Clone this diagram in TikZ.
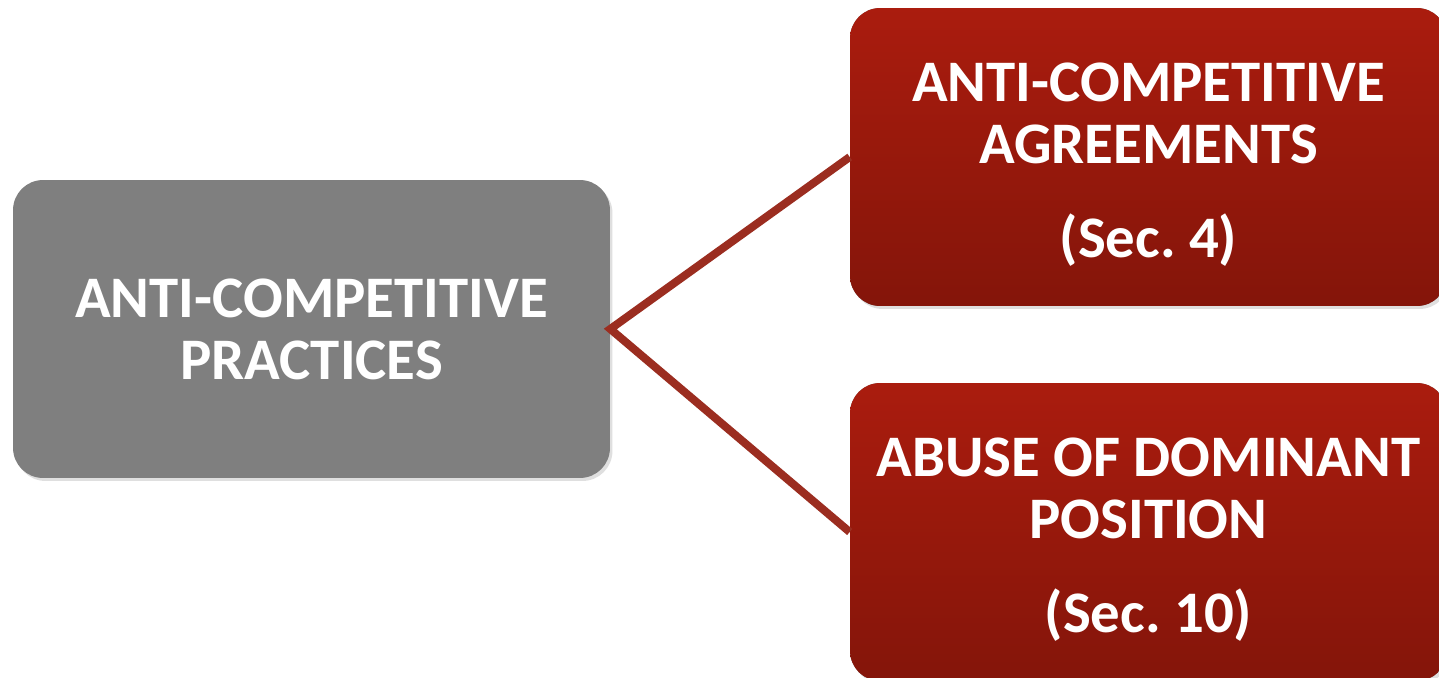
\documentclass[tikz,border=0pt]{standalone}
\usepackage{fontspec}
\setmainfont{Carlito}
\usetikzlibrary{shadows}
\definecolor{boxgray}{HTML}{7F7F7F}
\definecolor{redtop}{HTML}{AA1C0E}
\definecolor{redbot}{HTML}{84150A}
\definecolor{linkred}{HTML}{9B2D20}
\newcommand{\topstrut}{\rule{0pt}{1.07cm}}
\begin{document}
\frenchspacing
\begin{tikzpicture}[x=0.02cm,y=-0.02cm]
\tikzstyle{every node}+=[inner sep=0pt, align=center, text=white, font=\fontsize{33.5}{35.2}\selectfont\bfseries]
\tikzstyle{mainbox}=[rounded corners=0.6cm, minimum width=11.94cm, minimum height=5.96cm, fill=boxgray, drop shadow={shadow xshift=0.05cm, shadow yshift=-0.06cm, opacity=0.25}]
\tikzstyle{secbox}=[mainbox, top color=redtop, bottom color=redbot]
\tikzstyle{link}=[linkred, line width=0.16cm]
\useasboundingbox (0,0) rectangle (1439,678);
\fill [white] (0,0) rectangle (1439,678);
\node [mainbox] (practices) at (311.5,329) {ANTI-COMPETITIVE\\PRACTICES};
\node [secbox] (agreements) at (1148.5,157) {\topstrut ANTI-COMPETITIVE\\AGREEMENTS\\[0.65cm](Sec. 4)};
\node [secbox] (abuse) at (1148.5,532) {\topstrut ABUSE OF DOMINANT\\POSITION\\[0.65cm](Sec. 10)};
\draw [link] (agreements.west) -- (practices.east) -- (abuse.west);
\end{tikzpicture}
\end{document}
